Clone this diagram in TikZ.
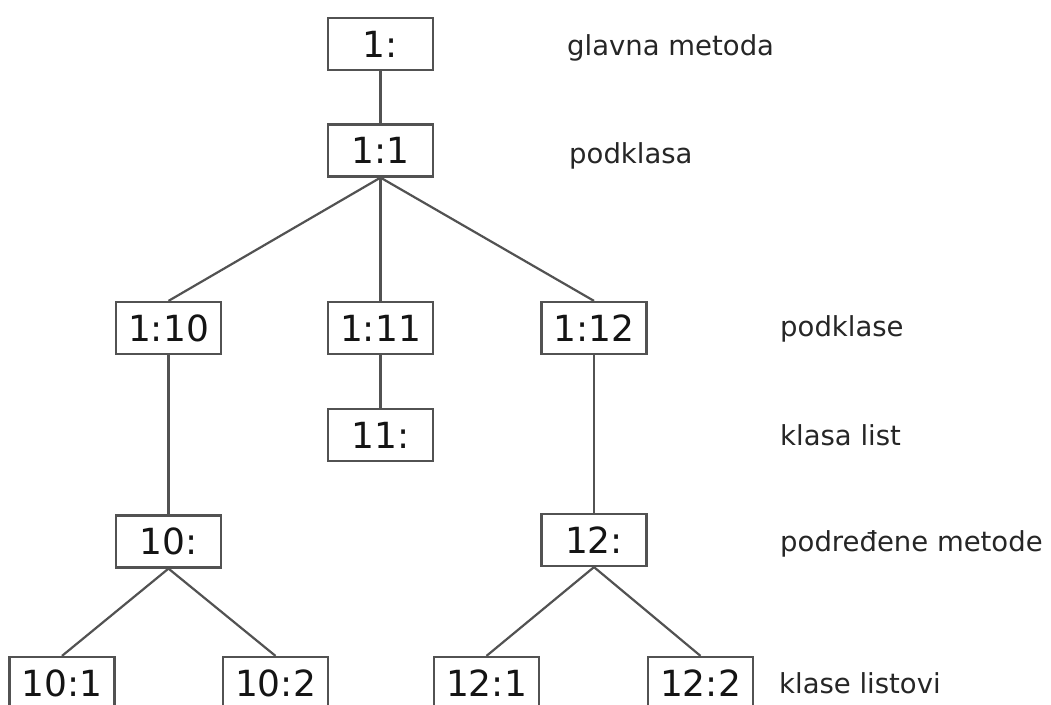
\documentclass[tikz,border=0pt]{standalone}
\usepackage{fontspec}
\setmainfont{DejaVu Sans}
\begin{document}
\begin{tikzpicture}[x=1pt,y=-1pt,
  box/.style={draw=black!68, line width=2.2pt, minimum width=105pt, minimum height=52pt, inner sep=0pt,
    font=\fontsize{36}{40}\selectfont, text=black!92},
  lab/.style={anchor=base west, inner sep=0pt, font=\fontsize{27.5}{32}\selectfont, text=black!85},
  conn/.style={draw=black!68, line width=2.2pt}]
\useasboundingbox (0,0) rectangle (1051,704);
\node[box] (n1) at (380.5,44) {1:};
\node[box] (n11) at (380.5,150.5) {1:1};
\node[box] (n110) at (168.5,328) {1:10};
\node[box] (n111) at (380.5,328) {1:11};
\node[box] (n112) at (594,328) {1:12};
\node[box] (m11) at (380.5,435) {11:};
\node[box] (m10) at (168.5,541.5) {10:};
\node[box] (m12) at (594,540) {12:};
\node[box] (m101) at (62,683) {10:1};
\node[box] (m102) at (275.5,683) {10:2};
\node[box] (m121) at (486.5,683) {12:1};
\node[box] (m122) at (700.5,683) {12:2};
\draw[conn] (n1.south) -- (n11.north);
\draw[conn] (n11.south) -- (n110.north);
\draw[conn] (n11.south) -- (n111.north);
\draw[conn] (n11.south) -- (n112.north);
\draw[conn] (n111.south) -- (m11.north);
\draw[conn] (n110.south) -- (m10.north);
\draw[conn] (n112.south) -- (m12.north);
\draw[conn] (m10.south) -- (m101.north);
\draw[conn] (m10.south) -- (m102.north);
\draw[conn] (m12.south) -- (m121.north);
\draw[conn] (m12.south) -- (m122.north);
\node[lab] (l1) at (567,55) {glavna metoda};
\node[lab] (l2) at (569,163) {podklasa};
\node[lab] (l3) at (780,336) {podklase};
\node[lab] (l4) at (780,445) {klasa list};
\node[lab] (l5) at (780,551) {podređene metode};
\node[lab] (l6) at (779,693) {klase listovi};
\end{tikzpicture}
\end{document}
